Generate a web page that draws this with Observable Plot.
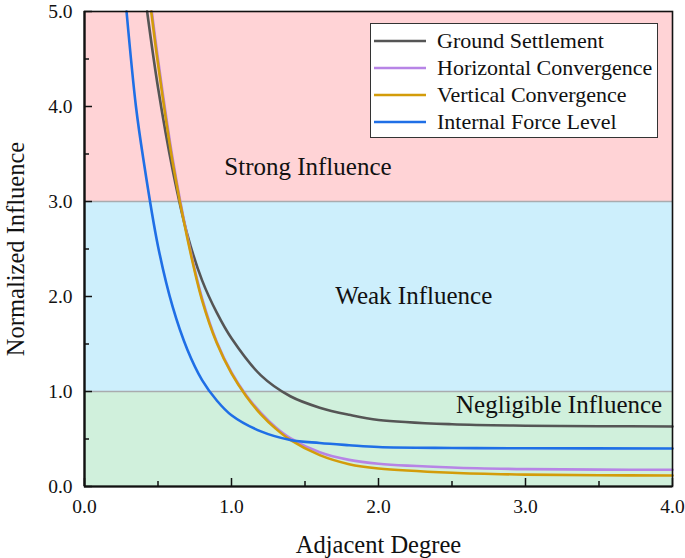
<!DOCTYPE html>
<html>
<head>
<meta charset="utf-8">
<script src="https://cdn.jsdelivr.net/npm/d3@7"></script>
<script src="https://cdn.jsdelivr.net/npm/@observablehq/plot@0.6"></script>
</head>
<body style="margin:0">
<div id="wrap" style="position:relative;width:685px;height:558px"></div>
<script>
// ---- data ----
const seriesNames = ["Ground Settlement", "Horizontal Convergence", "Vertical Convergence", "Internal Force Level"];

const groundX = [0.426, 0.5, 0.6, 0.7, 0.8, 0.9, 1.0, 1.2, 1.4, 1.6, 1.8, 2.0, 2.5, 3.0, 3.5, 4.0];
const groundY = [5.0, 4.2, 3.33, 2.65, 2.17, 1.83, 1.56, 1.17, 0.95, 0.83, 0.755, 0.70, 0.655, 0.64, 0.635, 0.632];

const horizX = [0.458, 0.5, 0.6, 0.7, 0.8, 0.9, 1.0, 1.1, 1.2, 1.3, 1.4, 1.6, 1.8, 2.0, 2.5, 3.0, 3.5, 4.0];
const horizY = [5.0, 4.5, 3.45, 2.63, 1.98, 1.52, 1.2, 0.96, 0.775, 0.625, 0.51, 0.36, 0.28, 0.24, 0.2, 0.183, 0.178, 0.176];

const vertX = [0.454, 0.5, 0.6, 0.7, 0.8, 0.9, 1.0, 1.1, 1.2, 1.3, 1.4, 1.6, 1.8, 2.0, 2.5, 3.0, 3.5, 4.0];
const vertY = [5.0, 4.45, 3.41, 2.61, 1.96, 1.51, 1.19, 0.95, 0.76, 0.61, 0.49, 0.33, 0.235, 0.19, 0.145, 0.125, 0.118, 0.116];

const forceX = [0.286, 0.35, 0.4, 0.5, 0.6, 0.7, 0.8, 0.9, 1.0, 1.2, 1.4, 1.6, 1.8, 2.0, 2.5, 3.0, 4.0];
const forceY = [5.0, 4.0, 3.45, 2.53, 1.89, 1.44, 1.12, 0.905, 0.75, 0.58, 0.49, 0.458, 0.435, 0.415, 0.405, 0.402, 0.40];

const bandNames = ["Negligible Influence", "Weak Influence", "Strong Influence"];
const bandLow = [0, 1, 3];
const bandHigh = [1, 3, 5];
const bandLabelX = [3.93, 2.24, 1.52];
const bandLabelY = [0.86, 2.01, 3.36];

const xMajor = [0, 1, 2, 3, 4];
const xMinor = [0.5, 1.5, 2.5, 3.5];
const yMajor = [0, 1, 2, 3, 4, 5];
const yMinor = [0.5, 1.5, 2.5, 3.5, 4.5];

// ---- styles ----
const FONT = '"Liberation Serif"';
const seriesColors = ["#555555", "#B784E6", "#D39C0A", "#1F6FE6"];
const bandColors = ["#D0F0DC", "#CDEFFC", "#FFD3D6"];

const bands = bandNames.map((n, i) => ({name: n, lo: bandLow[i], hi: bandHigh[i], lx: bandLabelX[i], ly: bandLabelY[i], color: bandColors[i]}));
const seriesData = [[groundX, groundY], [horizX, horizY], [vertX, vertY], [forceX, forceY]]
  .map(([xs, ys], i) => xs.map((x, j) => ({x, y: ys[j], s: seriesNames[i]})));

const W = 685, H = 558;
const mL = 84, mR = 13, mT = 11, mB = 72;
const fw = W - mL - mR, fh = H - mT - mB;

const plot = Plot.plot({
  width: W, height: H,
  marginLeft: mL, marginRight: mR, marginTop: mT, marginBottom: mB,
  style: {fontFamily: FONT},
  x: {domain: [0, 4]},
  y: {domain: [0, 5]},
  marks: [
    Plot.rectY(bands, {x1: 0, x2: 4, y1: "lo", y2: "hi", fill: "color"}),
    Plot.ruleY([1, 3], {stroke: "#A9ABAE", strokeWidth: 1.3}),
    Plot.text(bands.filter(b => b.name !== "Negligible Influence"), {x: "lx", y: "ly", text: "name", fontSize: 25, fill: "#111"}),
    Plot.text(bands.filter(b => b.name === "Negligible Influence"), {x: "lx", y: "ly", text: "name", fontSize: 25, fill: "#111", textAnchor: "end"}),
    ...seriesData.map((d, i) => Plot.line(d, {x: "x", y: "y", stroke: seriesColors[i], strokeWidth: 2.6, curve: "catmull-rom"})),
    Plot.ruleX(xMajor, {stroke: "#111", strokeWidth: 1.5, insetTop: fh - 8}),
    Plot.ruleX(xMinor, {stroke: "#111", strokeWidth: 1.5, insetTop: fh - 5}),
    Plot.ruleY(yMajor, {stroke: "#111", strokeWidth: 1.5, insetRight: fw - 8}),
    Plot.ruleY(yMinor, {stroke: "#111", strokeWidth: 1.5, insetRight: fw - 5}),
    Plot.frame({stroke: "#111", strokeWidth: 1.6}),
    Plot.ruleX([0], {stroke: "#111", strokeWidth: 2.2}),
    Plot.ruleY([0], {stroke: "#111", strokeWidth: 2.2}),
    Plot.axisX(xMajor, {tickSize: 0, tickPadding: 13, fontSize: 19.5, tickFormat: d3.format(".1f"), label: null, fill: "#111"}),
    Plot.axisY(yMajor, {tickSize: 0, tickPadding: 12, fontSize: 19.5, tickFormat: d3.format(".1f"), label: null, fill: "#111"}),
    Plot.text(["Adjacent Degree"], {frameAnchor: "bottom", dy: 59, fontSize: 24.5, fill: "#111", lineAnchor: "middle", textAnchor: "middle"}),
    Plot.text(["Normalized Influence"], {frameAnchor: "left", dx: -68, rotate: -90, fontSize: 24.5, fill: "#111", lineAnchor: "middle", textAnchor: "middle"})
  ]
});

const wrap = document.getElementById("wrap");
wrap.appendChild(plot);

const legend = document.createElement("div");
Object.assign(legend.style, {
  position: "absolute", left: "370px", top: "23px", width: "288px", height: "115px",
  border: "1px solid #333", background: "#fff", boxSizing: "border-box", paddingTop: "3px",
  fontFamily: FONT
});
seriesNames.forEach((n, i) => {
  const row = document.createElement("div");
  Object.assign(row.style, {display: "flex", alignItems: "center", height: "27px", fontSize: "22px", color: "#111", whiteSpace: "nowrap", fontFamily: FONT});
  const sw = document.createElementNS("http://www.w3.org/2000/svg", "svg");
  sw.setAttribute("width", "52"); sw.setAttribute("height", "10");
  sw.style.marginLeft = "3px"; sw.style.marginRight = "11px"; sw.style.flex = "none";
  const ln = document.createElementNS("http://www.w3.org/2000/svg", "line");
  ln.setAttribute("x1", "0"); ln.setAttribute("y1", "5"); ln.setAttribute("x2", "52"); ln.setAttribute("y2", "5");
  ln.setAttribute("stroke", seriesColors[i]); ln.setAttribute("stroke-width", "2.6");
  sw.appendChild(ln);
  const sp = document.createElement("span");
  sp.textContent = n;
  row.appendChild(sw); row.appendChild(sp);
  legend.appendChild(row);
});
wrap.appendChild(legend);
</script>
</body>
</html>
